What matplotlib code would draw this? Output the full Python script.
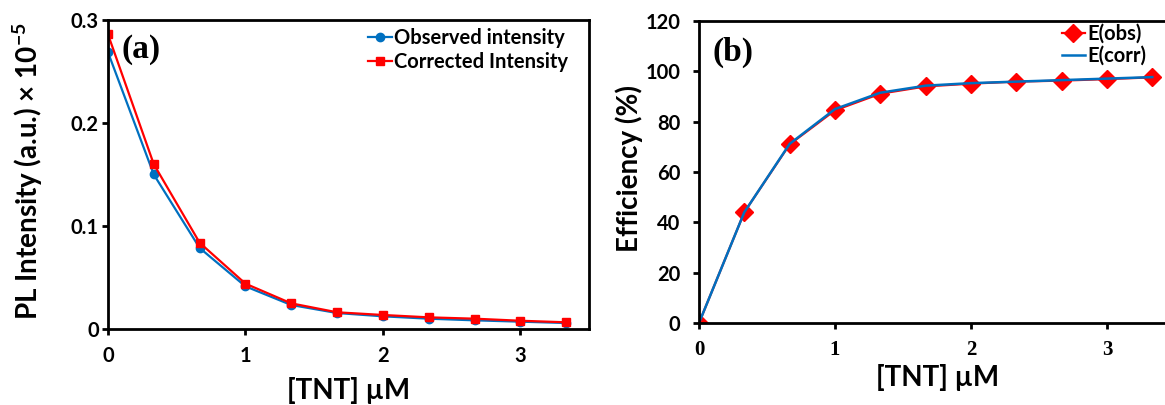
import numpy as np
import matplotlib
matplotlib.use("Agg")
import matplotlib.pyplot as plt

plt.rcParams['font.family'] = ['Lato', 'DejaVu Sans']
plt.rcParams['font.weight'] = 'bold'
plt.rcParams['axes.labelweight'] = 'bold'
plt.rcParams['mathtext.default'] = 'regular'

# concentration of TNT (uM)
tnt = [0, 0.333, 0.667, 1.0, 1.333, 1.667, 2.0, 2.333, 2.667, 3.0, 3.333]

# panel (a): PL intensity x 1e-5
observed = [0.2686, 0.150, 0.0786, 0.0414, 0.0233, 0.0155, 0.0123, 0.0100, 0.0084, 0.0071, 0.0058]
corrected = [0.286, 0.160, 0.0837, 0.0440, 0.0249, 0.0162, 0.0136, 0.0113, 0.0100, 0.0080, 0.0065]

# panel (b): quenching efficiency (%)
e_obs = [0, 44.0, 71.0, 84.5, 91.1, 94.0, 95.1, 95.9, 96.3, 96.9, 97.6]
e_corr = [0, 44.0, 71.2, 85.0, 91.5, 94.3, 95.3, 95.9, 96.5, 97.1, 97.7]

blue = '#0070C0'
red = '#FF0000'

fig = plt.figure(figsize=(11.65, 4.05), dpi=100)
ax1 = fig.add_axes([0.0927, 0.1877, 0.4129, 0.763])
ax2 = fig.add_axes([0.600, 0.2025, 0.4086, 0.7457])

# ---- panel (a)
ax1.plot(tnt, observed, color=blue, lw=1.6, marker='o', ms=6, label='Observed intensity')
ax1.plot(tnt, corrected, color=red, lw=1.6, marker='s', ms=5.6, label='Corrected Intensity')
ax1.set_xlim(0, 3.5)
ax1.set_ylim(0, 0.3)
ax1.set_xticks([0, 1, 2, 3])
ax1.set_yticks([0, 0.1, 0.2, 0.3])
ax1.set_yticklabels(['0', '0.1', '0.2', '0.3'])
ax1.tick_params(axis='both', direction='out', length=4.5, width=2, labelsize=14.5)
ax1.tick_params(axis='x', pad=8)
ax1.tick_params(axis='y', pad=2)
ax1.set_xlabel('[TNT] µM', fontsize=20, va='center')
ax1.xaxis.set_label_coords(0.501, -0.2006)
ax1.set_ylabel('PL Intensity (a.u.) × 10$^{-5}$', fontsize=20, va='center')
ax1.yaxis.set_label_coords(-0.166, 0.511)
ax1.text(0.029, 0.903, '(a)', transform=ax1.transAxes, fontsize=24,
         family='Liberation Serif', weight='bold', va='center', ha='left')
fig.legend(handles=ax1.get_lines(), loc='upper right', bbox_to_anchor=(0.4876, 0.931),
           frameon=False, fontsize=14.5, handlelength=1.2, handletextpad=0.1,
           labelspacing=0.2, borderpad=0, borderaxespad=0, numpoints=1)

# ---- panel (b)
ax2.plot(tnt, e_obs, color=red, lw=1.6, marker='D', ms=9, label='E(obs)')
ax2.plot(tnt, e_corr, color=blue, lw=1.8, label='E(corr)')
ax2.set_xlim(0, 3.5)
ax2.set_ylim(0, 120)
ax2.set_xticks([0, 1, 2, 3])
ax2.set_yticks(np.arange(0, 121, 20))
ax2.tick_params(axis='both', direction='out', length=4.5, width=2, labelsize=14.5)
ax2.tick_params(axis='x', pad=8, labelsize=15, labelfontfamily='Liberation Serif')
ax2.tick_params(axis='y', pad=9)
ax2.set_xlabel('[TNT] µM', fontsize=20, va='center')
ax2.xaxis.set_label_coords(0.502, -0.179)
ax2.set_ylabel('Efficiency (%)', fontsize=20, va='center')
ax2.yaxis.set_label_coords(-0.147, 0.513)
ax2.text(0.029, 0.897, '(b)', transform=ax2.transAxes, fontsize=24,
         family='Liberation Serif', weight='bold', va='center', ha='left')
fig.legend(handles=ax2.get_lines(), loc='upper right', bbox_to_anchor=(0.9837, 0.9407),
           frameon=False, fontsize=14.5, handlelength=1.15, handletextpad=0.1,
           labelspacing=0.1, borderpad=0, borderaxespad=0, numpoints=1)

for ax in (ax1, ax2):
    for sp in ax.spines.values():
        sp.set_linewidth(2)
        sp.set_color('black')

fig.savefig('out.png', dpi=100)
